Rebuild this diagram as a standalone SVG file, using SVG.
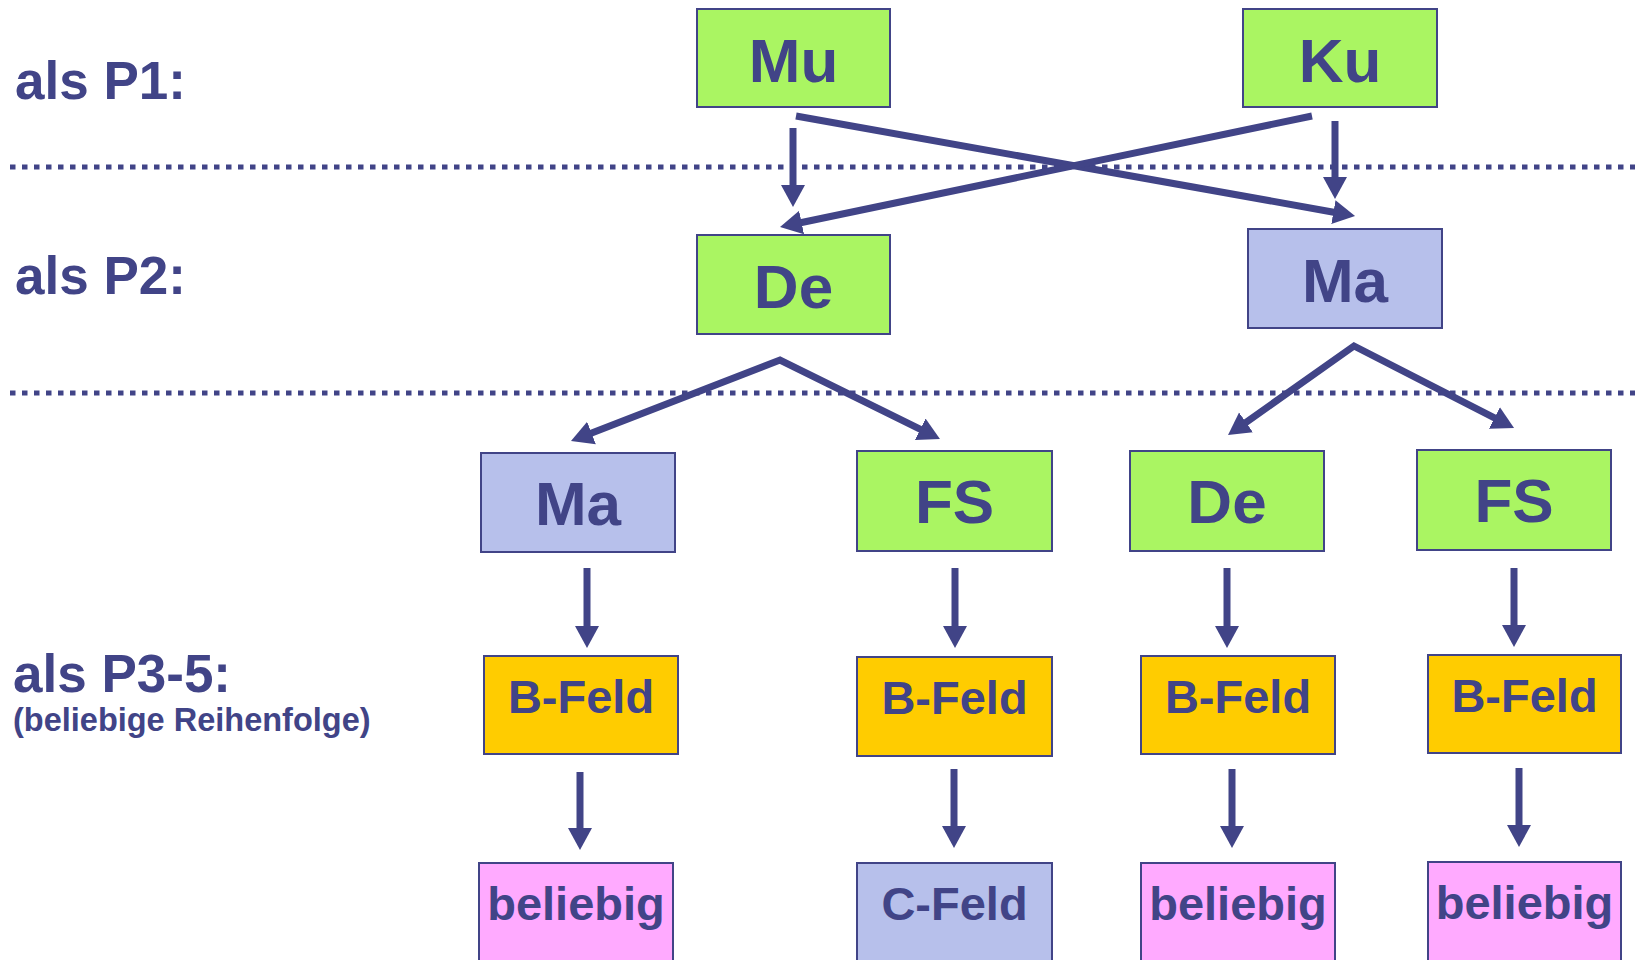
<svg xmlns="http://www.w3.org/2000/svg" width="1635" height="960" viewBox="0 0 1635 960">
<defs>
<style>
.bx{stroke:#414487;stroke-width:2}
.g{fill:#AAF562}.b{fill:#B7C0EB}.y{fill:#FFCC00}.p{fill:#FFAAFF}
.t{font-family:"Liberation Sans",Arial,sans-serif;font-weight:bold;fill:#414487;text-anchor:middle}
.big{font-size:62px}.mid{font-size:47px}
.lbl{font-family:"Liberation Sans",Arial,sans-serif;font-weight:bold;fill:#414487;font-size:53px}
.sub{font-size:32.5px}
.ar{stroke:#414487;stroke-width:7;fill:none;marker-end:url(#ah)}
.ar2{stroke:#414487;stroke-width:7;fill:none;marker-start:url(#ah);marker-end:url(#ah);stroke-linejoin:miter}
.dot{stroke:#414487;stroke-width:5;stroke-dasharray:5.5 6.5;fill:none}
</style>
<marker id="ah" markerUnits="userSpaceOnUse" markerWidth="24" markerHeight="26" refX="6" refY="12" orient="auto-start-reverse" viewBox="0 0 24 24">
<path d="M0,0 L22,12 L0,24 z" fill="#414487"/>
</marker>
</defs>
<rect width="1635" height="960" fill="#fff"/>
<g id="labels">
<text class="lbl" x="15" y="99">als P1:</text>
<text class="lbl" x="15" y="294">als P2:</text>
<text class="lbl" x="13" y="692">als P3-5:</text>
<text class="lbl sub" x="13" y="731">(beliebige Reihenfolge)</text>
</g>
<g id="separators">
<line class="dot" x1="10" y1="167" x2="1635" y2="167"/>
<line class="dot" x1="10" y1="393" x2="1635" y2="393"/>
</g>
<g id="connectors">
<path class="ar" d="M793,128 L793,191"/>
<path class="ar" d="M1335,121 L1335,183"/>
<path class="ar" d="M796,116 L1339.3,213.2"/>
<path class="ar" d="M1312,116 L795.7,223.7"/>
<path class="ar2" d="M585.9,435.2 L780,360 L925.6,431.9"/>
<path class="ar2" d="M1241.1,425.8 L1354,346 L1499.8,420.7"/>
<path class="ar" d="M587,568 L587,632"/>
<path class="ar" d="M955,568 L955,632"/>
<path class="ar" d="M1227,568 L1227,632"/>
<path class="ar" d="M1514,568 L1514,631"/>
<path class="ar" d="M580,772 L580,834"/>
<path class="ar" d="M954,769 L954,832"/>
<path class="ar" d="M1232,769 L1232,832"/>
<path class="ar" d="M1519,768 L1519,831"/>
</g>
<g id="n-mu"><rect class="bx g" x="697" y="9" width="193" height="98"/><text class="t big" x="793.5" y="82">Mu</text></g>
<g id="n-ku"><rect class="bx g" x="1243" y="9" width="194" height="98"/><text class="t big" x="1340" y="82">Ku</text></g>
<g id="n-de2"><rect class="bx g" x="697" y="235" width="193" height="99"/><text class="t big" x="793.5" y="308">De</text></g>
<g id="n-ma2"><rect class="bx b" x="1248" y="229" width="194" height="99"/><text class="t big" x="1345" y="302">Ma</text></g>
<g id="n-ma3"><rect class="bx b" x="481" y="453" width="194" height="99"/><text class="t big" x="578" y="525">Ma</text></g>
<g id="n-fs3a"><rect class="bx g" x="857" y="451" width="195" height="100"/><text class="t big" x="954.5" y="523">FS</text></g>
<g id="n-de3"><rect class="bx g" x="1130" y="451" width="194" height="100"/><text class="t big" x="1227" y="523">De</text></g>
<g id="n-fs3b"><rect class="bx g" x="1417" y="450" width="194" height="100"/><text class="t big" x="1514" y="522">FS</text></g>
<g id="n-bf1"><rect class="bx y" x="484" y="656" width="194" height="98"/><text class="t mid" x="581" y="713">B-Feld</text></g>
<g id="n-bf2"><rect class="bx y" x="857" y="657" width="195" height="99"/><text class="t mid" x="954.5" y="714">B-Feld</text></g>
<g id="n-bf3"><rect class="bx y" x="1141" y="656" width="194" height="98"/><text class="t mid" x="1238" y="713">B-Feld</text></g>
<g id="n-bf4"><rect class="bx y" x="1428" y="655" width="193" height="98"/><text class="t mid" x="1524.5" y="712">B-Feld</text></g>
<g id="n-bel1"><rect class="bx p" x="479" y="863" width="194" height="110"/><text class="t mid" x="576" y="920">beliebig</text></g>
<g id="n-cf"><rect class="bx b" x="857" y="863" width="195" height="110"/><text class="t mid" x="954.5" y="920">C-Feld</text></g>
<g id="n-bel3"><rect class="bx p" x="1141" y="863" width="194" height="110"/><text class="t mid" x="1238" y="920">beliebig</text></g>
<g id="n-bel4"><rect class="bx p" x="1428" y="862" width="193" height="110"/><text class="t mid" x="1524.5" y="919">beliebig</text></g>
</svg>
